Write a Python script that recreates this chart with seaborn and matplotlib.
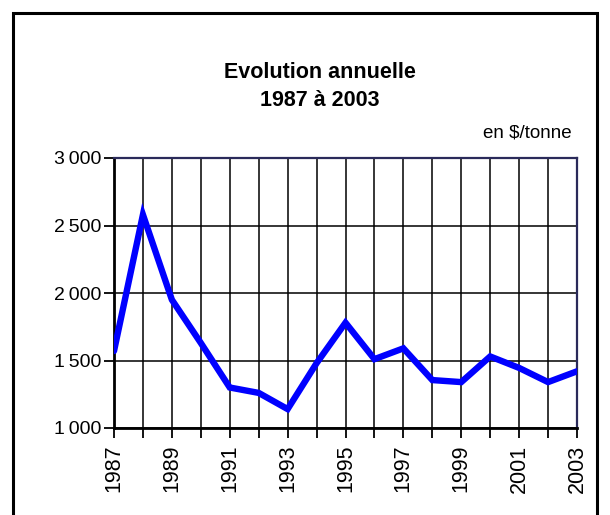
import matplotlib
matplotlib.use("Agg")
import matplotlib.pyplot as plt
from matplotlib import font_manager
from matplotlib.patches import Rectangle
from matplotlib.ticker import FixedLocator, MultipleLocator
import seaborn as sns
import pandas as pd

# Annual price, in $/tonne
years = [1987, 1988, 1989, 1990, 1991, 1992, 1993, 1994, 1995,
         1996, 1997, 1998, 1999, 2000, 2001, 2002, 2003]
prices = [1570, 2580, 1950, 1630, 1300, 1260, 1140, 1480, 1780,
          1510, 1590, 1355, 1340, 1530, 1445, 1340, 1420]
y_ticks = [1000, 1500, 2000, 2500, 3000]
y_tick_labels = ["1\u2009000", "1\u2009500", "2\u2009000", "2\u2009500", "3\u2009000"]
x_label_years = [1987, 1989, 1991, 1993, 1995, 1997, 1999, 2001, 2003]
title_lines = ["Evolution annuelle", "1987 à 2003"]
unit_label = "en $/tonne"

sns.set_style("white")
names = {f.name for f in font_manager.fontManager.ttflist}
narrow = "Liberation Sans Narrow" if "Liberation Sans Narrow" in names else "Liberation Sans"
plt.rcParams["font.family"] = [narrow, "DejaVu Sans"]
plt.rcParams["text.color"] = "black"
plt.rcParams["xtick.color"] = "black"
plt.rcParams["ytick.color"] = "black"

df = pd.DataFrame({"annee": years, "prix": prices})

fig = plt.figure(figsize=(6.10, 5.15), dpi=100)
ax = fig.add_axes([114 / 610, 87 / 515, 463 / 610, 270 / 515])

sns.lineplot(data=df, x="annee", y="prix", ax=ax, color="#0000FF",
             linewidth=4.6, zorder=3, solid_joinstyle="miter")

ax.set_xlim(years[0], years[-1])
ax.set_ylim(y_ticks[0], y_ticks[-1])
ax.set_xlabel("")
ax.set_ylabel("")

# grid: every year vertically, every 500 horizontally
ax.xaxis.set_major_locator(FixedLocator(x_label_years))
ax.xaxis.set_minor_locator(MultipleLocator(1))
ax.set_yticks(y_ticks)
ax.set_yticklabels(y_tick_labels)
ax.set_xticklabels([str(y) for y in x_label_years], rotation=90,
                   family=["Liberation Sans", "DejaVu Sans"], fontsize=15.5,
                   color="black")
for lab in ax.get_yticklabels():
    lab.set_fontsize(14)
    lab.set_color("black")
ax.grid(True, which="both", axis="x", color="black", linewidth=1.1, zorder=1)
ax.grid(True, which="major", axis="y", color="black", linewidth=1.1, zorder=1)

ax.tick_params(axis="both", which="both", direction="out", length=7,
               width=1.3, color="black", pad=2, labelcolor="black")
ax.tick_params(axis="x", which="both", bottom=True, pad=5)
ax.tick_params(axis="y", which="major", left=True)

for side in ("left", "bottom"):
    ax.spines[side].set_color("black")
    ax.spines[side].set_linewidth(2)
for side in ("top", "right"):
    ax.spines[side].set_visible(True)
    ax.spines[side].set_color("#2a2a5a")
    ax.spines[side].set_linewidth(1.6)

fig.text(320 / 610, 1 - 73 / 515, title_lines[0], ha="center", va="center",
         fontsize=15.5, fontweight="bold", color="black")
fig.text(320 / 610, 1 - 100 / 515, title_lines[1], ha="center", va="center",
         fontsize=15.5, fontweight="bold", color="black")
fig.text(572 / 610, 1 - 133 / 515, unit_label, ha="right", va="center",
         fontsize=13.5, color="black")

# outer chart frame
fig.patches.append(Rectangle((13 / 610, -0.05), 584 / 610, 1.05 - 13 / 515,
                             transform=fig.transFigure, fill=False,
                             edgecolor="black", linewidth=2.2))

fig.savefig("out.png", dpi=100)
